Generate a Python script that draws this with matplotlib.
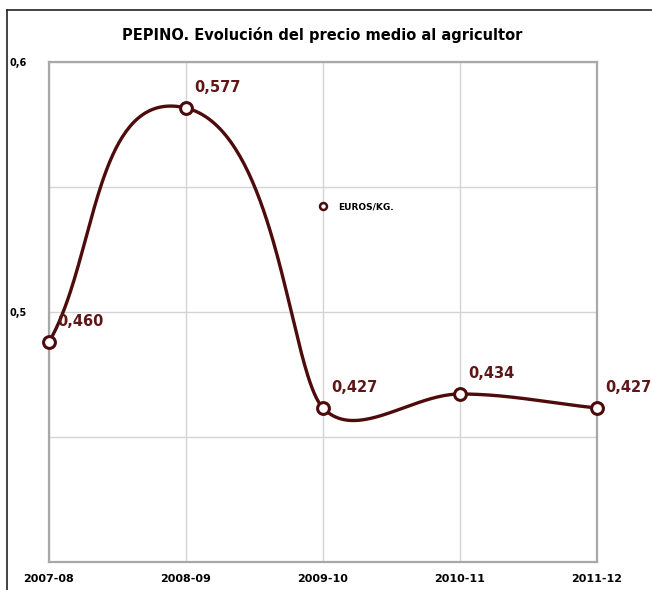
import numpy as np
import matplotlib
matplotlib.use("Agg")
import matplotlib.pyplot as plt
from matplotlib.lines import Line2D

campaigns = ["2007-08", "2008-09", "2009-10", "2010-11", "2011-12"]
prices = [0.460, 0.577, 0.427, 0.434, 0.427]
price_labels = ["0,460", "0,577", "0,427", "0,434", "0,427"]
grid_values = [0.4125, 0.475, 0.5375, 0.6]
grid_labels = ["", "0,5", "", "0,6"]

line_col = "#4d0b0b"
label_col = "#5e1616"

fig = plt.figure(figsize=(6.52, 5.90), dpi=100)
ax = fig.add_axes([49/652, 1 - 562/590, 548/652, 500/590])
ax.set_xlim(0, 4)
ax.set_ylim(0.35, 0.6)

x = np.arange(len(prices), dtype=float)
y = np.array(prices)

# smoothed line, built in screen space like a spreadsheet "smooth line"
P = ax.transData.transform(np.column_stack([x, y]))
d = np.linalg.norm(np.diff(P, axis=0), axis=1)
f = 0.35
n = len(P)
tang = np.zeros_like(P)
hlen = np.zeros(n)
for i in range(n):
    if i == 0:
        v = P[1] - P[0]; hlen[i] = f * d[0]
    elif i == n - 1:
        v = P[-1] - P[-2]; hlen[i] = f * d[-1]
    else:
        v = P[i+1] - P[i-1]; hlen[i] = f * min(d[i-1], d[i])
    tang[i] = v / np.linalg.norm(v)
t = np.linspace(0, 1, 80)[:, None]
curve = []
for i in range(n - 1):
    b0, b3 = P[i], P[i+1]
    b1 = b0 + hlen[i] * tang[i]
    b2 = b3 - hlen[i+1] * tang[i+1]
    curve.append((1-t)**3 * b0 + 3*(1-t)**2*t * b1 + 3*(1-t)*t**2 * b2 + t**3 * b3)
curve = ax.transData.inverted().transform(np.vstack(curve))

ax.plot(curve[:, 0], curve[:, 1], color=line_col, lw=2.4, clip_on=False, zorder=3)
ax.plot(x, y, ls='none', marker='o', ms=8.5, mfc='white', mec=line_col, mew=2.2,
        clip_on=False, zorder=4)

for xi, yi, lab in zip(x, y, price_labels):
    ax.annotate(lab, (xi, yi), xytext=(8, 20), textcoords='offset pixels',
                ha='left', va='center', fontsize=10.5, fontweight='bold', color=label_col)

ax.set_xticks(x)
ax.set_xticklabels(campaigns, fontsize=8, fontweight='bold')
ax.set_yticks(grid_values)
ax.set_yticklabels(grid_labels, fontsize=7, fontweight='bold')
ax.tick_params(length=0)
ax.tick_params(axis='x', pad=9)
ax.tick_params(axis='y', pad=16)
ax.grid(True, color='#d4d4d4', lw=1)
ax.set_axisbelow(True)
for s in ax.spines.values():
    s.set_color('#a8a8a8')
    s.set_linewidth(1.6)

leg_handle = Line2D([], [], ls='none', marker='o', ms=5, mfc='white', mec=line_col, mew=1.8)
ax.legend(handles=[leg_handle], labels=["EUROS/KG."], loc='center left',
          bbox_to_anchor=(0.484, 0.71), frameon=False, borderpad=0, handlelength=1,
          handletextpad=1.2, prop={'size': 6.5, 'weight': 'bold'})

fig.text(0.494, 1 - 35/590, "PEPINO. Evolución del precio medio al agricultor",
         ha='center', va='center', fontsize=10.5, fontweight='bold')

# outer frame (left and top)
fig.add_artist(Line2D([7/652, 7/652], [0, 1 - 10/590], color='#222222', lw=1.2))
fig.add_artist(Line2D([7/652, 1], [1 - 10/590, 1 - 10/590], color='#222222', lw=1.2))

fig.savefig("out.png", dpi=100)
